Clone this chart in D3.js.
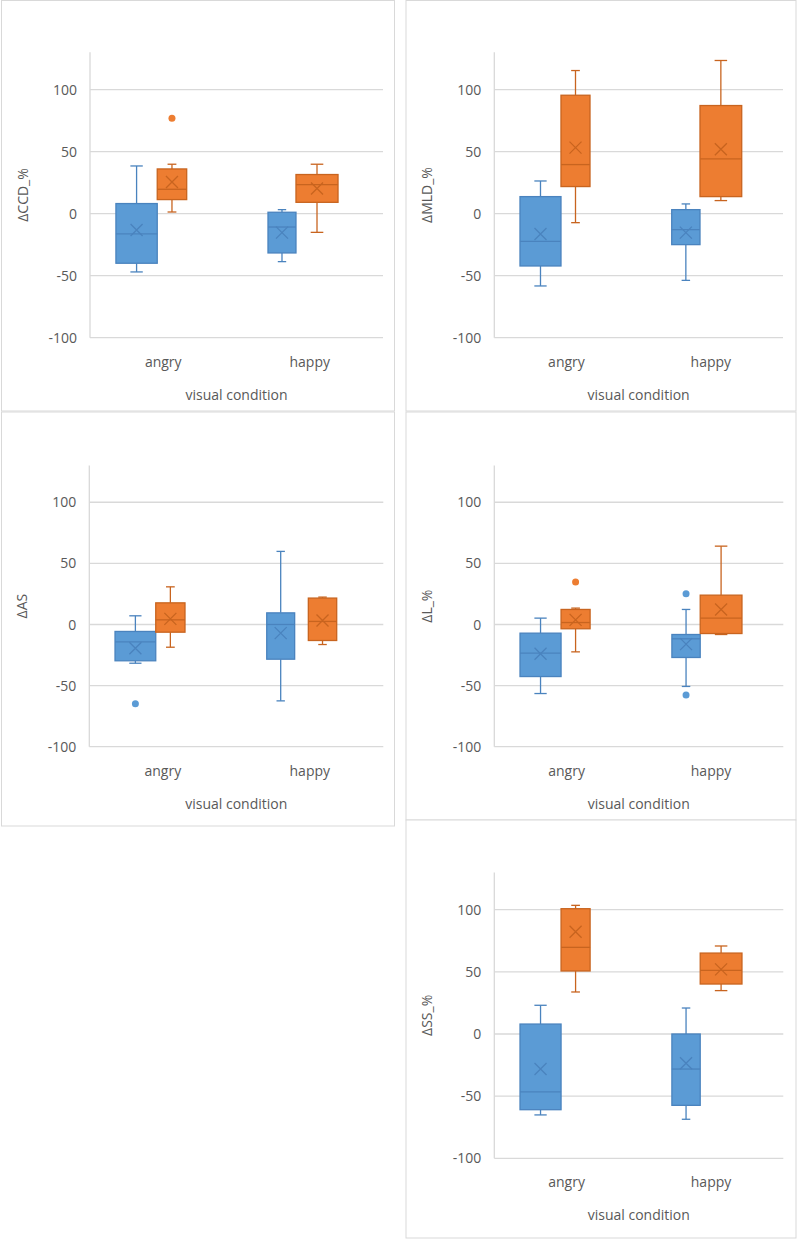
<!DOCTYPE html>
<html><head><meta charset="utf-8">
<script src="https://cdn.jsdelivr.net/npm/d3@7"></script>
<style>body{margin:0;background:#fff}svg{display:block}text{font-family:"Open Sans",sans-serif;fill:#595959}</style>
</head><body><svg id="c" width="797" height="1239"></svg>
<script>
// ---------- data ----------
const categories = ["angry", "happy"];
const yTicks = [-100, -50, 0, 50, 100];
const yDomain = [-100, 130];
const xTitle = "visual condition";
const panelTitles = ["ΔCCD_%", "ΔMLD_%", "ΔAS", "ΔL_%", "ΔSS_%"];
// per category, per series (blue, orange): [lowWhisker, q1, median, q3, highWhisker, mean]
const ccdBox = [
  [[-47, -40, -16.4, 8.1, 38.4, -13.2], [1.3, 11.3, 19.6, 36, 39.8, 25.5]],
  [[-38.7, -31.7, -10.8, 1.1, 3.2, -15.3], [-15.1, 9.1, 23.4, 31.5, 39.8, 20.2]]
];
const ccdOutliers = [[[], [76.9]], [[], []]];
const mldBox = [
  [[-58.3, -42.2, -22.3, 13.7, 26.3, -16.4], [-7.3, 21.8, 39.5, 95.4, 115.3, 53.2]],
  [[-53.8, -25, -12.9, 3.2, 7.8, -15.3], [10.5, 13.7, 44.1, 87.1, 123.4, 51.9]]
];
const mldOutliers = [[[], []], [[], []]];
const asBox = [
  [[-31.7, -29.7, -14.2, -5.7, 7.1, -19.4], [-18.6, -6.3, 3.8, 17.7, 30.8, 4.6]],
  [[-62.5, -28.4, 0, 9.5, 59.8, -7.1], [-16.4, -13.1, 2.5, 21.6, 22.4, 3.3]]
];
const asOutliers = [[[-64.9], []], [[], []]];
const lBox = [
  [[-56.5, -42.6, -23.5, -7.1, 5.2, -24], [-22.4, -3.5, 1.6, 12.3, 13.4, 3.8]],
  [[-50.7, -27, -11.7, -8.2, 12.3, -16.1], [-8.2, -7.4, 5.2, 24, 64.1, 12.3]]
];
const lOutliers = [[[], [34.7]], [[25.1, -57.6], []]];
const ssBox = [
  [[-65.1, -60.9, -46.6, 8, 23.1, -28.2], [33.8, 50.7, 69.7, 100.8, 103.5, 82.3]],
  [[-68.6, -57.4, -28.2, 0, 20.9, -23.6], [34.9, 40.2, 51.2, 65.1, 70.8, 52]]
];
const ssOutliers = [[[], []], [[], []]];

// ---------- layout / style ----------
const fills = ["#5B9BD5", "#ED7D31"];
const strokes = ["#4A83BE", "#C8641F"];
const grid = "#d9d9d9";
const panels = [
  {box: ccdBox, out: ccdOutliers, frame: [1.5, 0.5, 394.5, 411], plot: [90, 383, 52.3, 337.7],
   pos: [[0.177, 0.459, 0.459, 0.66], [0.215, 0.406, 0.406, 0.693]]},
  {box: mldBox, out: mldOutliers, frame: [406, 0.5, 796, 411], plot: [494.3, 783, 52.3, 337.7],
   pos: [[0.178, 0.462, 0.462, 0.663], [0.229, 0.425, 0.425, 0.714]]},
  {box: asBox, out: asOutliers, frame: [1.5, 412, 394.5, 826], plot: [89.3, 383.3, 465.6, 746.7],
   pos: [[0.175, 0.452, 0.452, 0.651], [0.207, 0.397, 0.49, 0.683]]},
  {box: lBox, out: lOutliers, frame: [406, 412, 796, 820], plot: [494.3, 783.3, 465.6, 746.7],
   pos: [[0.178, 0.462, 0.462, 0.663], [0.229, 0.425, 0.425, 0.714]]},
  {box: ssBox, out: ssOutliers, frame: [406, 820, 796, 1238], plot: [494.3, 783.3, 872.4, 1158.3],
   pos: [[0.178, 0.462, 0.462, 0.663], [0.229, 0.425, 0.425, 0.714]]}
];

const svg = d3.select("#c");
panels.forEach((p, pi) => {
  const [fx0, fy0, fx1, fy1] = p.frame;
  svg.append("rect").attr("x", fx0).attr("y", fy0).attr("width", fx1 - fx0).attr("height", fy1 - fy0)
    .attr("fill", "#fff").attr("stroke", grid).attr("stroke-width", 1);
  const [L, R, T, B] = p.plot;
  const y = d3.scaleLinear().domain(yDomain).range([B, T]);
  const x = d3.scaleBand().domain(categories).range([L, R]).padding(0);
  const g = svg.append("g");
  // gridlines
  g.selectAll("line.grid").data(yTicks).join("line")
    .attr("x1", L).attr("x2", R).attr("y1", d => y(d)).attr("y2", d => y(d))
    .attr("stroke", grid).attr("stroke-width", 1.3);
  // y axis line
  g.append("line").attr("x1", L).attr("x2", L).attr("y1", T).attr("y2", B)
    .attr("stroke", grid).attr("stroke-width", 1.3);
  // tick labels
  g.selectAll("text.tick").data(yTicks).join("text")
    .attr("x", L - 13).attr("y", d => y(d)).attr("dy", "0.36em")
    .attr("text-anchor", "end").attr("font-size", 14).text(d => d);
  // category labels
  g.selectAll("text.cat").data(categories).join("text")
    .attr("x", d => x(d) + x.bandwidth() / 2).attr("y", B + 29)
    .attr("text-anchor", "middle").attr("font-size", 14).text(d => d);
  // x title
  g.append("text").attr("x", (L + R) / 2).attr("y", B + 62)
    .attr("text-anchor", "middle").attr("font-size", 14).text(xTitle);
  // y title
  g.append("text").attr("transform", `translate(${L - 62},${(T + B) / 2}) rotate(-90)`)
    .attr("text-anchor", "middle").attr("font-size", 14).text(panelTitles[pi]);
  // boxes
  categories.forEach((cat, ci) => {
    [0, 1].forEach(si => {
      const s = p.box[ci][si];
      const bw = x.bandwidth();
      const x0 = x(cat) + p.pos[ci][si * 2] * bw;
      const x1 = x(cat) + p.pos[ci][si * 2 + 1] * bw;
      const cx = (x0 + x1) / 2;
      const w = x1 - x0;
      const cap = w * 0.15;
      const bg = g.append("g").attr("stroke", strokes[si]).attr("stroke-width", 1.3).attr("fill", "none");
      // whiskers
      bg.append("line").attr("x1", cx).attr("x2", cx).attr("y1", y(s[0])).attr("y2", y(s[1]));
      bg.append("line").attr("x1", cx).attr("x2", cx).attr("y1", y(s[3])).attr("y2", y(s[4]));
      bg.append("line").attr("x1", cx - cap).attr("x2", cx + cap).attr("y1", y(s[0])).attr("y2", y(s[0]));
      bg.append("line").attr("x1", cx - cap).attr("x2", cx + cap).attr("y1", y(s[4])).attr("y2", y(s[4]));
      // box
      bg.append("rect").attr("x", x0).attr("y", y(s[3])).attr("width", w).attr("height", y(s[1]) - y(s[3]))
        .attr("fill", fills[si]);
      // median
      bg.append("line").attr("x1", x0).attr("x2", x1).attr("y1", y(s[2])).attr("y2", y(s[2]));
      // mean X
      const m = y(s[5]), r = 6;
      bg.append("path").attr("d", `M${cx - r},${m - r}L${cx + r},${m + r}M${cx - r},${m + r}L${cx + r},${m - r}`);
      // outliers
      g.selectAll(null).data(p.out[ci][si]).join("circle")
        .attr("cx", cx).attr("cy", d => y(d)).attr("r", 3.5).attr("fill", fills[si]);
    });
  });
});
</script></body></html>
